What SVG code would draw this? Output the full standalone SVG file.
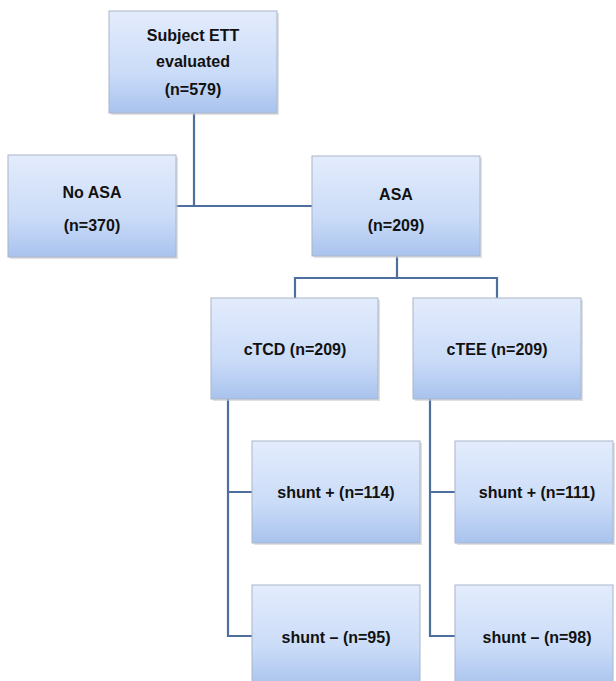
<svg xmlns="http://www.w3.org/2000/svg" width="616" height="681" viewBox="0 0 616 681">
<style>
.box{fill:url(#g);stroke:#a9b6c8;stroke-width:1}
.sh{fill:#c9ccd2;opacity:0.6}
.t{font-family:"Liberation Sans",Arial,sans-serif;font-weight:bold;font-size:16px;fill:#111;text-anchor:middle}
.c{fill:none;stroke:#4d6f9e;stroke-width:2.2}
</style>
<defs>
<linearGradient id="g" x1="0" y1="0" x2="0" y2="1">
<stop offset="0" stop-color="#e3ecfc"/>
<stop offset="0.6" stop-color="#cbdcf8"/>
<stop offset="1" stop-color="#a9c3ee"/>
</linearGradient>
</defs>
<rect width="616" height="681" fill="#fff"/>
<g id="connectors">
<path class="c" d="M194 113 V206 M176 206 H312"/>
<path class="c" d="M397 256 V278 M295 298 V278 H497 V298"/>
<path class="c" d="M228 399 V636 H252 M228 492 H252"/>
<path class="c" d="M430 399 V636 H455 M430 492 H455"/>
</g>
<g id="n_subject">
<rect class="sh" x="111" y="13" width="168" height="102"/>
<rect class="box" x="109" y="11" width="168" height="102"/>
<text class="t" x="193" y="41">Subject ETT</text>
<text class="t" x="193" y="67">evaluated</text>
<text class="t" x="193" y="95">(n=579)</text>
</g>
<g id="n_noasa">
<rect class="sh" x="10" y="157" width="168" height="102"/>
<rect class="box" x="8" y="155" width="168" height="102"/>
<text class="t" x="92" y="198">No ASA</text>
<text class="t" x="92" y="231">(n=370)</text>
</g>
<g id="n_asa">
<rect class="sh" x="314" y="158" width="168" height="100"/>
<rect class="box" x="312" y="156" width="168" height="100"/>
<text class="t" x="396" y="200">ASA</text>
<text class="t" x="396" y="231">(n=209)</text>
</g>
<g id="n_ctcd">
<rect class="sh" x="213" y="300" width="167" height="101"/>
<rect class="box" x="211" y="298" width="167" height="101"/>
<text class="t" x="295" y="355">cTCD (n=209)</text>
</g>
<g id="n_ctee">
<rect class="sh" x="415" y="300" width="168" height="101"/>
<rect class="box" x="413" y="298" width="168" height="101"/>
<text class="t" x="497" y="355">cTEE (n=209)</text>
</g>
<g id="n_tcd_pos">
<rect class="sh" x="254" y="443" width="168" height="102"/>
<rect class="box" x="252" y="441" width="168" height="102"/>
<text class="t" x="336" y="498">shunt + (n=114)</text>
</g>
<g id="n_tee_pos">
<rect class="sh" x="457" y="443" width="158" height="102"/>
<rect class="box" x="455" y="441" width="158" height="102"/>
<text class="t" x="537" y="498">shunt + (n=111)</text>
</g>
<g id="n_tcd_neg">
<rect class="box" x="252" y="585" width="168" height="102"/>
<text class="t" x="336" y="643">shunt – (n=95)</text>
</g>
<g id="n_tee_neg">
<rect class="box" x="455" y="585" width="158" height="102"/>
<text class="t" x="537" y="643">shunt – (n=98)</text>
</g>
</svg>
